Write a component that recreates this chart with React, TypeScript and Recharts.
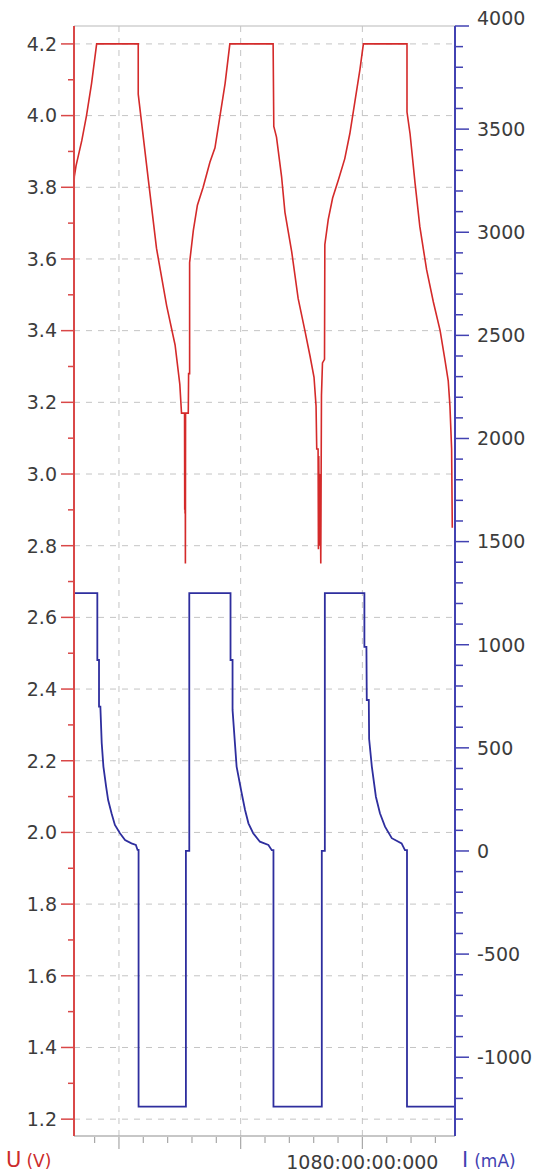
import {
  LineChart,
  Line,
  XAxis,
  YAxis,
  ReferenceLine,
} from "recharts";

// time in hours, voltage in V
const VOLTAGE: [number, number][] = [
  [227, 3.81], [228, 3.83], [233, 3.86], [250, 3.93], [264, 4.0], [279, 4.09], [294, 4.2],
  [414, 4.2], [417, 4.2], [417, 4.06], [447, 3.82], [471, 3.63], [501, 3.47], [526, 3.36],
  [540, 3.25], [545, 3.17], [554, 3.17], [554.5, 2.9], [555, 3.14], [555.5, 2.89], [556, 3.12],
  [556.5, 2.75], [557, 3.17], [565, 3.17], [566, 3.28], [569, 3.28], [569, 3.59], [580, 3.68],
  [592, 3.75], [609, 3.8], [629, 3.87], [644, 3.91], [659, 4.0], [674, 4.09], [688, 4.2],
  [816, 4.2], [818, 3.97], [826, 3.94], [841, 3.83], [851, 3.73], [871, 3.62], [890, 3.49],
  [910, 3.4], [925, 3.33], [937, 3.27], [943, 3.19], [945, 3.07], [949, 3.07], [950, 2.79],
  [951, 3.05], [953, 2.8], [955, 3.0], [957, 2.75], [959, 3.22], [962, 3.31], [968, 3.32],
  [969, 3.64], [979, 3.71], [992, 3.77], [1009, 3.82], [1028, 3.88], [1043, 3.95], [1058, 4.04],
  [1073, 4.13], [1083, 4.2], [1206, 4.2], [1212, 4.2], [1212, 4.01], [1221, 3.95], [1236, 3.81],
  [1250, 3.69], [1270, 3.57], [1290, 3.48], [1310, 3.4], [1324, 3.32], [1334, 3.26], [1339, 3.19],
  [1344, 3.07], [1346, 2.85],
];

// time in hours, current in mA
const CURRENT: [number, number][] = [
  [227, 1250], [296, 1250], [296, 926], [301, 926], [301, 700], [305, 700], [309, 523],
  [314, 409], [322, 312], [328, 247], [338, 183], [348, 126], [363, 86], [378, 53], [397, 37],
  [410, 29], [415, 5], [418, 5], [418, -1240], [558, -1240], [558, 0], [568, 0], [568, 1250],
  [690, 1250], [690, 926], [696, 926], [696, 684], [703, 523], [708, 409], [723, 280],
  [733, 199], [743, 134], [757, 86], [777, 45], [802, 29], [812, 4], [817, 4], [817, -1240],
  [960, -1240], [960, 0], [969, 0], [969, 1250], [1086, 1250], [1086, 990], [1092, 990],
  [1093, 732], [1099, 732], [1100, 543], [1108, 409], [1120, 263], [1132, 183], [1147, 118],
  [1167, 62], [1196, 37], [1206, 4], [1212, 4], [1212, -1240], [1354, -1240],
];

const VOLT_TICKS = [
  1.2, 1.3, 1.4, 1.5, 1.6, 1.7, 1.8, 1.9, 2.0, 2.1, 2.2, 2.3, 2.4, 2.5, 2.6, 2.7,
  2.8, 2.9, 3.0, 3.1, 3.2, 3.3, 3.4, 3.5, 3.6, 3.7, 3.8, 3.9, 4.0, 4.1, 4.2,
];
const VOLT_LABELS = [1.2, 1.4, 1.6, 1.8, 2.0, 2.2, 2.4, 2.6, 2.8, 3.0, 3.2, 3.4, 3.6, 3.8, 4.0, 4.2];

const CURRENT_TICKS = [
  -1300, -1200, -1100, -1000, -900, -800, -700, -600, -500, -400, -300, -200, -100, 0,
  100, 200, 300, 400, 500, 600, 700, 800, 900, 1000, 1100, 1200, 1300, 1400, 1500,
  1600, 1700, 1800, 1900, 2000, 2100, 2200, 2300, 2400, 2500, 2600, 2700, 2800, 2900,
  3000, 3100, 3200, 3300, 3400, 3500, 3600, 3700, 3800, 3900, 4000,
];
const CURRENT_LABELS = [-1000, -500, 0, 500, 1000, 1500, 2000, 2500, 3000, 3500, 4000];

const TIME_TICKS = [288, 360, 432, 504, 576, 648, 720, 792, 864, 936, 1008, 1080, 1152, 1224, 1296];
const TIME_MAJOR = [360, 720, 1080];
const TIME_LABELS: Record<number, string> = { 1080: "1080:00:00:000" };

const RED = "#d42a2a";
const RED_AXIS = "#d94848";
const BLUE = "#2e2e9e";
const BLUE_AXIS = "#4242b2";
const GRID = "#c4c4c4";
const TEXT = "#3c3c3c";
const FONT = "'DejaVu Sans', Verdana, sans-serif";

const voltData = VOLTAGE.map(([h, v]) => ({ h, v }));
const currentData = CURRENT.map(([h, v]) => ({ h, v }));

function LeftTick({ x, y, payload }: any) {
  const major = VOLT_LABELS.includes(payload.value);
  return (
    <g>
      <line x1={x - (major ? 13 : 6)} x2={x} y1={y} y2={y} stroke={RED_AXIS} strokeWidth={1.5} />
      {major && (
        <text x={x - 17} y={y} dy="0.36em" textAnchor="end" fontSize={19} fontFamily={FONT} fill={TEXT}>
          {payload.value.toFixed(1)}
        </text>
      )}
    </g>
  );
}

function RightTick({ x, y, payload }: any) {
  const major = CURRENT_LABELS.includes(payload.value);
  // the top label sits a little above its tick, as in the original
  const top = payload.value === 4000;
  return (
    <g>
      <line x1={x} x2={x + (major ? 14 : 8)} y1={y} y2={y} stroke={BLUE_AXIS} strokeWidth={1.5} />
      {major && (
        <text
          x={x + 22}
          y={top ? y - 1 : y}
          dy={top ? 0 : "0.36em"}
          textAnchor="start"
          fontSize={19}
          fontFamily={FONT}
          fill={TEXT}
        >
          {payload.value}
        </text>
      )}
    </g>
  );
}

function BottomTick({ x, y, payload }: any) {
  const major = TIME_MAJOR.includes(payload.value);
  const label = TIME_LABELS[payload.value];
  return (
    <g>
      <line x1={x} x2={x} y1={y + 1} y2={y + (major ? 13 : 7)} stroke="#a8a8a8" strokeWidth={1.2} />
      {label && (
        <text x={x} y={y + 33} textAnchor="middle" fontSize={19} fontFamily={FONT} fill={TEXT}>
          {label}
        </text>
      )}
    </g>
  );
}

export default function App() {
  return (
    <div style={{ position: "absolute", left: 0, top: 0, width: 539, height: 1173, background: "#fff" }}>
      <LineChart width={539} height={1173} margin={{ top: 26, right: 0, bottom: 0, left: 0 }}>
        <XAxis
          dataKey="h"
          type="number"
          domain={[227, 1354]}
          allowDataOverflow
          ticks={TIME_TICKS}
          interval={0}
          height={37}
          tickSize={0}
          tickMargin={0}
          tickLine={false}
          axisLine={{ stroke: "#b4b4b4", strokeWidth: 1.5 }}
          tick={<BottomTick />}
        />
        <YAxis
          yAxisId="v"
          orientation="left"
          type="number"
          domain={[1.153, 4.25]}
          allowDataOverflow
          ticks={VOLT_TICKS}
          interval={0}
          width={74}
          tickSize={0}
          tickMargin={0}
          tickLine={false}
          axisLine={{ stroke: RED_AXIS, strokeWidth: 2 }}
          tick={<LeftTick />}
        />
        <YAxis
          yAxisId="i"
          orientation="right"
          type="number"
          domain={[-1382, 4000]}
          allowDataOverflow
          ticks={CURRENT_TICKS}
          interval={0}
          width={84}
          tickSize={0}
          tickMargin={0}
          tickLine={false}
          axisLine={{ stroke: BLUE_AXIS, strokeWidth: 2 }}
          tick={<RightTick />}
        />
        <ReferenceLine yAxisId="v" y={4.25} stroke="#d0d0d0" strokeWidth={1.5} />
        {VOLT_LABELS.map((v) => (
          <ReferenceLine key={`gy${v}`} yAxisId="v" y={v} stroke={GRID} strokeDasharray="6 6" />
        ))}
        {TIME_MAJOR.map((t) => (
          <ReferenceLine key={`gx${t}`} yAxisId="v" x={t} stroke={GRID} strokeDasharray="6 6" />
        ))}
        <Line
          yAxisId="v"
          data={voltData}
          dataKey="v"
          type="linear"
          stroke={RED}
          strokeWidth={1.6}
          dot={false}
          isAnimationActive={false}
        />
        <Line
          yAxisId="i"
          data={currentData}
          dataKey="v"
          type="linear"
          stroke={BLUE}
          strokeWidth={1.8}
          dot={false}
          isAnimationActive={false}
        />
      </LineChart>
      <svg
        width={539}
        height={1173}
        style={{ position: "absolute", left: 0, top: 0, pointerEvents: "none" }}
      >
        <text x={6} y={1167} fontFamily={FONT} fill="#cc2b2b">
          <tspan fontSize={21}>U</tspan>
          <tspan fontSize={17} dx={5}>(V)</tspan>
        </text>
        <text x={462} y={1167} fontFamily={FONT} fill={BLUE_AXIS}>
          <tspan fontSize={21}>I</tspan>
          <tspan fontSize={17} dx={6}>(mA)</tspan>
        </text>
      </svg>
    </div>
  );
}
